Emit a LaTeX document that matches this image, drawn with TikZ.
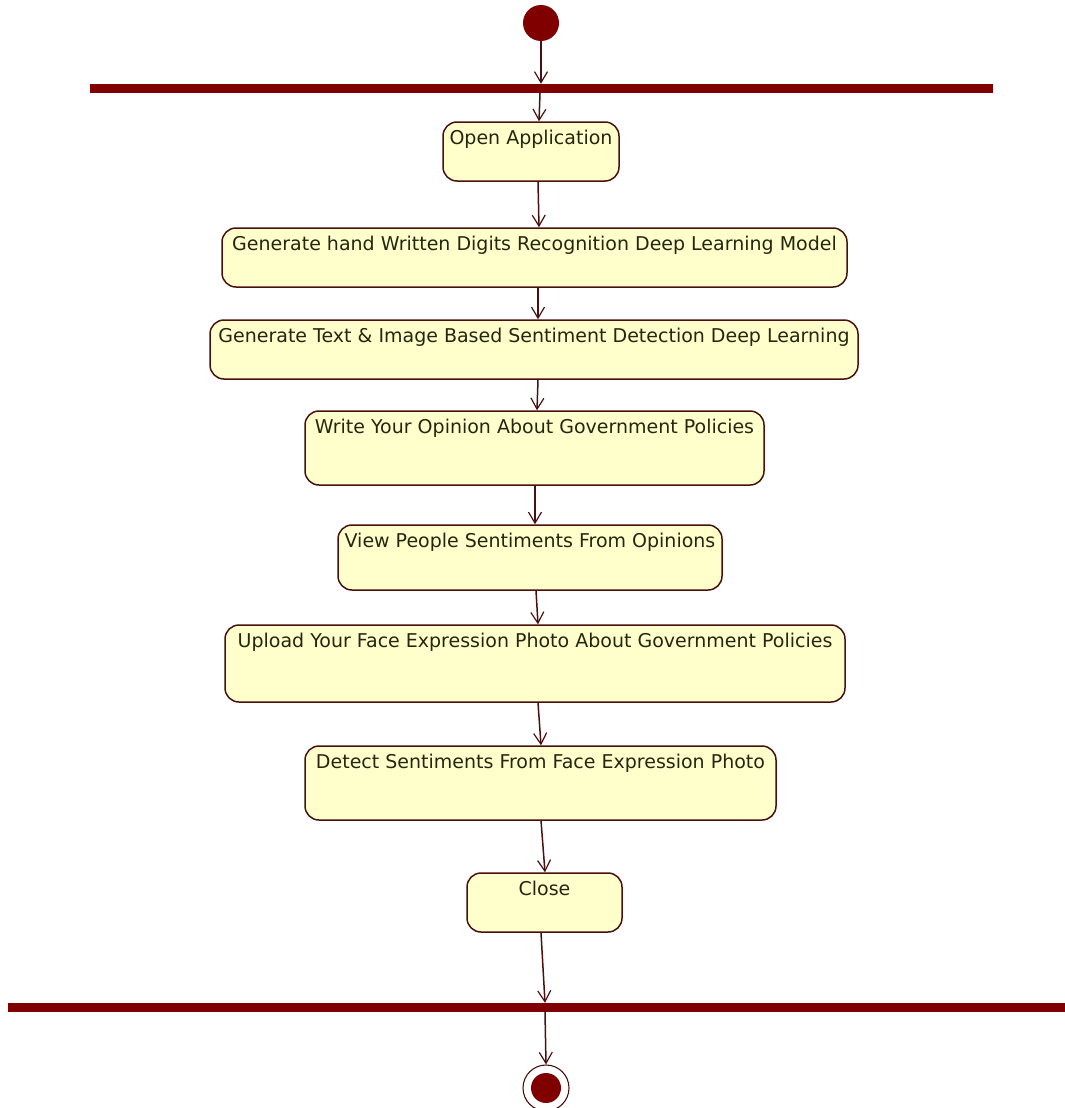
\documentclass[tikz,border=0pt]{standalone}
\usepackage{fontspec}
\setmainfont{DejaVu Sans}
\usetikzlibrary{arrows.meta}
\definecolor{umlred}{HTML}{800000}
\definecolor{umlline}{HTML}{4A1010}
\definecolor{umlfill}{HTML}{FFFFCC}
\definecolor{umltext}{HTML}{262610}
\tikzset{
  act/.style={draw=umlline, fill=umlfill, line width=1.5pt, rounded corners=14pt,
    inner sep=0pt},
  actlabel/.style={anchor=north, yshift=-8.5pt, inner sep=0pt, text=umltext,
    font=\fontsize{19}{21}\selectfont},
  bar/.style={fill=umlred, draw=none, inner sep=0pt},
  flow/.style={draw=umlline, line width=1.5pt, -{Straight Barb[length=11pt,width=13pt,line width=1.2pt]}},
}
\begin{document}
\begin{tikzpicture}[x=1pt,y=-1pt]
\useasboundingbox (0,0) rectangle (1065,1108);
% start
\node[circle, fill=umlred, minimum size=36pt, inner sep=0pt] (start) at (541,23) {};
% bars
\node[bar, minimum width=903pt, minimum height=9pt] (topbar) at (541.5,88.5) {};
\node[bar, minimum width=1060pt, minimum height=9pt] (botbar) at (538,1007.5) {};
% activities
\node[act, minimum width=176pt, minimum height=59pt,
  label={[actlabel]north:Open Application}] (a1) at (531,151.5) {};
\node[act, minimum width=625pt, minimum height=59pt,
  label={[actlabel]north:Generate hand Written Digits Recognition Deep Learning Model}] (a2) at (534.5,257.5) {};
\node[act, minimum width=648pt, minimum height=59pt,
  label={[actlabel]north:Generate Text \& Image Based Sentiment Detection Deep Learning}] (a3) at (534,349.5) {};
\node[act, minimum width=459pt, minimum height=74pt,
  label={[actlabel]north:Write Your Opinion About Government Policies}] (a4) at (534.5,448) {};
\node[act, minimum width=384pt, minimum height=65pt,
  label={[actlabel]north:View People Sentiments From Opinions}] (a5) at (530,557.5) {};
\node[act, minimum width=620pt, minimum height=77pt,
  label={[actlabel]north:Upload Your Face Expression Photo About Government Policies}] (a6) at (535,663.5) {};
\node[act, minimum width=471pt, minimum height=74pt,
  label={[actlabel]north:Detect Sentiments From Face Expression Photo}] (a7) at (540.5,783) {};
\node[act, minimum width=155pt, minimum height=59pt,
  label={[actlabel]north:Close}] (a8) at (544.5,902.5) {};
% end
\node[circle, draw=umlline, fill=white, line width=1.1pt, minimum size=46pt, inner sep=0pt] (end) at (546,1088) {};
\node[circle, fill=umlred, minimum size=30pt, inner sep=0pt] (endin) at (end.center) {};
% flows
\draw[flow] (start.south) -- (start.south |- topbar.north);
\draw[flow] (topbar.south -| 540,0) -- (a1.north -| 539,0);
\draw[flow] (a1.south -| 538,0) -- (a2.north -| 539,0);
\draw[flow] (a2.south -| 538,0) -- (a3.north -| 538,0);
\draw[flow] (a3.south -| 538,0) -- (a4.north -| 537,0);
\draw[flow] (a4.south -| 535,0) -- (a5.north -| 535,0);
\draw[flow] (a5.south -| 536,0) -- (a6.north -| 538,0);
\draw[flow] (a6.south -| 538,0) -- (a7.north -| 541,0);
\draw[flow] (a7.south -| 541,0) -- (a8.north -| 545,0);
\draw[flow] (a8.south -| 541,0) -- (botbar.north -| 545,0);
\draw[flow] (botbar.south -| 545,0) -- (end.north);
\end{tikzpicture}
\end{document}
